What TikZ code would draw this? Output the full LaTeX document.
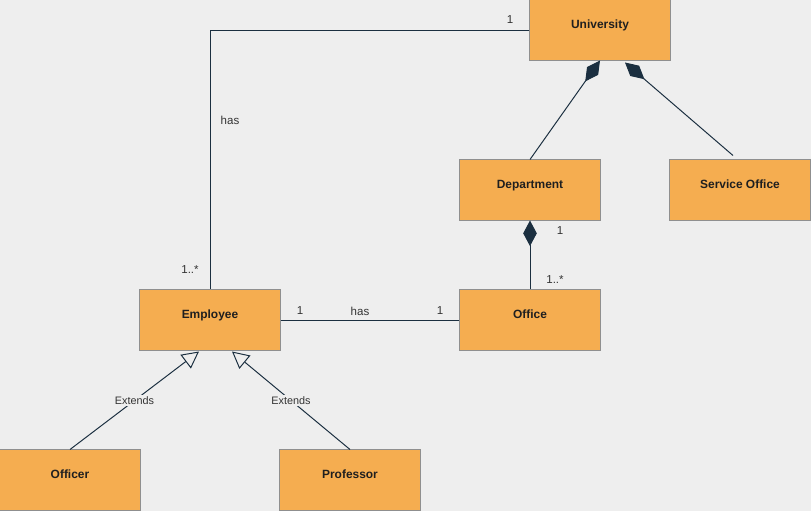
\documentclass[tikz,border=0pt]{standalone}
\usepackage{fontspec}
\setmainfont{Liberation Sans}
\usetikzlibrary{arrows.meta,calc}
\definecolor{bg}{HTML}{EEEEEE}
\definecolor{boxfill}{HTML}{F5AD50}
\definecolor{boxline}{HTML}{8F8F8F}
\definecolor{linkcol}{HTML}{1B2F40}
\definecolor{labtext}{HTML}{333333}
\tikzset{
  cls/.style={draw=boxline, fill=boxfill, line width=0.7pt, minimum width=3.5cm,
    minimum height=1.5cm, inner sep=0pt, text=black!88,
    font=\bfseries\fontsize{8.5}{10}\selectfont, text height=0.225cm, text depth=0.3cm},
  link/.style={draw=linkcol, line width=0.7pt},
  mult/.style={font=\fontsize{8.2}{10}\selectfont, text=labtext, inner sep=1pt},
  extlabel/.style={mult, font=\fontsize{7.7}{9}\selectfont, fill=bg},
  compose/.style={link, -{Diamond[length=0.64cm, width=0.34cm, fill=linkcol]}},
  extends/.style={link, -{Triangle[open, length=0.42cm, width=0.43cm, fill=bg]}},
}
\begin{document}
\begin{tikzpicture}[x=0.025cm, y=-0.025cm]
  \useasboundingbox (0,0) rectangle (811,511);
  \fill[bg] (0,0) rectangle (811,511);     % Draw background

  % Draw classes
  \node[cls] (univ)    at (600,30)  {University};
  \node[cls] (dept)    at (530,190) {Department};
  \node[cls] (svc)     at (740,190) {Service Office};
  \node[cls] (emp)     at (210,320) {Employee};
  \node[cls] (off)     at (530,320) {Office};
  \node[cls] (officer) at (70,480)  {Officer};
  \node[cls] (prof)    at (350,480) {Professor};

  % Draw association University - Employee
  \draw[link] (univ.west) -| (emp.north);
  \node[mult] (um1)  at (510,20)  {1};
  \node[mult] (uhas) at (230,120) {has};
  \node[mult] (um2)  at (190,270) {1..*};

  % Draw compositions to University
  \draw[compose] (dept.north) -- (univ.south);
  \draw[compose] ($(svc.north)+(-7,-4)$) -- ($(univ.south)+(25,2)$);

  % Draw composition Office - Department
  \draw[compose] (off.north) -- (dept.south);
  \node[mult] (dm1) at (560,231) {1};
  \node[mult] (dm2) at (555,280) {1..*};

  % Draw association Employee - Office
  \draw[link] (emp.east) -- (off.west);
  \node[mult] (em1)  at (300,311) {1};
  \node[mult] (ehas) at (360,311) {has};
  \node[mult] (em2)  at (440,311) {1};

  % Draw generalisations to Employee
  \draw[extends] (officer.north) -- node[extlabel] (ext1) {Extends} ($(emp.south)+(-11,1)$);
  \draw[extends] (prof.north) -- node[extlabel] (ext2) {Extends} ($(emp.south)+(22,1)$);
\end{tikzpicture}
\end{document}
